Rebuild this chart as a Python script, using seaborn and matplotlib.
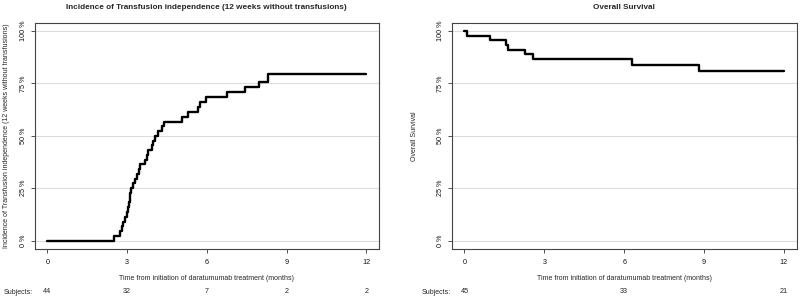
import matplotlib
matplotlib.use("Agg")
import matplotlib.pyplot as plt
import seaborn as sns
import pandas as pd

# ---- data ----
ti_time = [0, 2.52, 2.74, 2.80, 2.83, 2.93, 2.98, 3.03, 3.06, 3.09, 3.12, 3.14,
           3.22, 3.30, 3.37, 3.44, 3.50, 3.68, 3.75, 3.80, 3.93, 3.98, 4.05,
           4.15, 4.30, 4.40, 5.07, 5.30, 5.65, 5.75, 5.98, 6.75, 7.42, 7.98,
           8.32, 12.0]
ti_pct = [0, 2.3, 4.5, 6.8, 9.1, 11.4, 13.6, 15.9, 18.2, 20.5, 22.7, 25.0,
          27.3, 29.5, 31.8, 34.1, 36.4, 38.6, 40.9, 43.2, 45.5, 47.7, 50.0,
          52.3, 54.5, 56.8, 59.1, 61.4, 63.7, 66.0, 68.4, 70.9, 73.5, 75.9,
          79.5, 79.5]

os_time = [0, 0.11, 0.97, 1.57, 1.65, 2.28, 2.59, 6.28, 8.81, 12.0]
os_pct = [100, 97.8, 95.6, 93.3, 91.1, 88.9, 86.7, 84.0, 81.1, 81.1]

x_ticks = [0, 3, 6, 9, 12]
y_ticks = [0, 25, 50, 75, 100]
y_tick_labels = ["0 %", "25 %", "50 %", "75 %", "100 %"]

ti_risk_time = [0, 3, 6, 9, 12]
ti_risk_n = [44, 32, 7, 2, 2]
os_risk_time = [0, 6, 12]
os_risk_n = [45, 33, 21]

ti_title = "Incidence of Transfusion independence (12 weeks without transfusions)"
ti_ylabel = "Incidence of Transfusion independence (12 weeks without transfusions)"
os_title = "Overall Survival"
os_ylabel = "Overall Survival"
xlabel = "Time from initiation of daratumumab treatment (months)"

# ---- style ----
sns.set_theme(style="white")
plt.rcParams["font.family"] = ["Liberation Sans", "DejaVu Sans"]

fig = plt.figure(figsize=(8, 2.99), dpi=100)
W, H = 800, 299

def px_axes(l, r, t, b):
    return fig.add_axes([l / W, 1 - b / H, (r - l) / W, (b - t) / H])

ax1 = px_axes(34.7, 379, 22.7, 249)
ax2 = px_axes(451.7, 796.7, 22.7, 249)

panels = [
    (ax1, ti_time, ti_pct, ti_title, ti_ylabel, ti_risk_time, ti_risk_n, -0.072, 4),
    (ax2, os_time, os_pct, os_title, os_ylabel, os_risk_time, os_risk_n, -0.099, 421.7),
]

for ax, t, p, title, ylab, rt, rn, ylx, subj_px in panels:
    df = pd.DataFrame({"t": t, "p": p})
    for yv in y_ticks:
        ax.axhline(yv, color="#dcdcdc", lw=0.8, zorder=0)
    sns.lineplot(data=df, x="t", y="p", ax=ax, color="black", lw=1.7,
                 drawstyle="steps-post", estimator=None, sort=False)
    ax.set_xlim(-0.48, 12.48)
    ax.set_ylim(-4, 104)
    ax.set_xticks(x_ticks)
    ax.set_xticklabels([str(v) for v in x_ticks], fontsize=5.2)
    ax.set_yticks(y_ticks)
    ax.set_yticklabels(y_tick_labels, fontsize=5.2, rotation=90, va="center")
    ax.tick_params(axis="both", direction="out", length=3, width=0.6,
                   color="#333333", bottom=True, left=True, pad=2.5,
                   labelcolor="#111111")
    ax.tick_params(axis="x", pad=4)
    for s in ax.spines.values():
        s.set_color("#444444")
        s.set_linewidth(0.8)
    ax.set_title(title, fontsize=5.85, fontweight="bold", pad=10)
    ax.set_xlabel(xlabel, fontsize=5, labelpad=7)
    ax.set_ylabel(ylab, fontsize=5)
    ax.yaxis.set_label_coords(ylx, 0.5)
    fig.text(subj_px / W, 1 - 292 / H, "Subjects:", fontsize=5,
             ha="left", va="center")
    trans = ax.get_xaxis_transform()
    for xv, n in zip(rt, rn):
        ax.text(xv, -0.19, str(n), transform=trans, fontsize=5.2,
                ha="center", va="center", clip_on=False)

fig.savefig("out.png", dpi=100)
